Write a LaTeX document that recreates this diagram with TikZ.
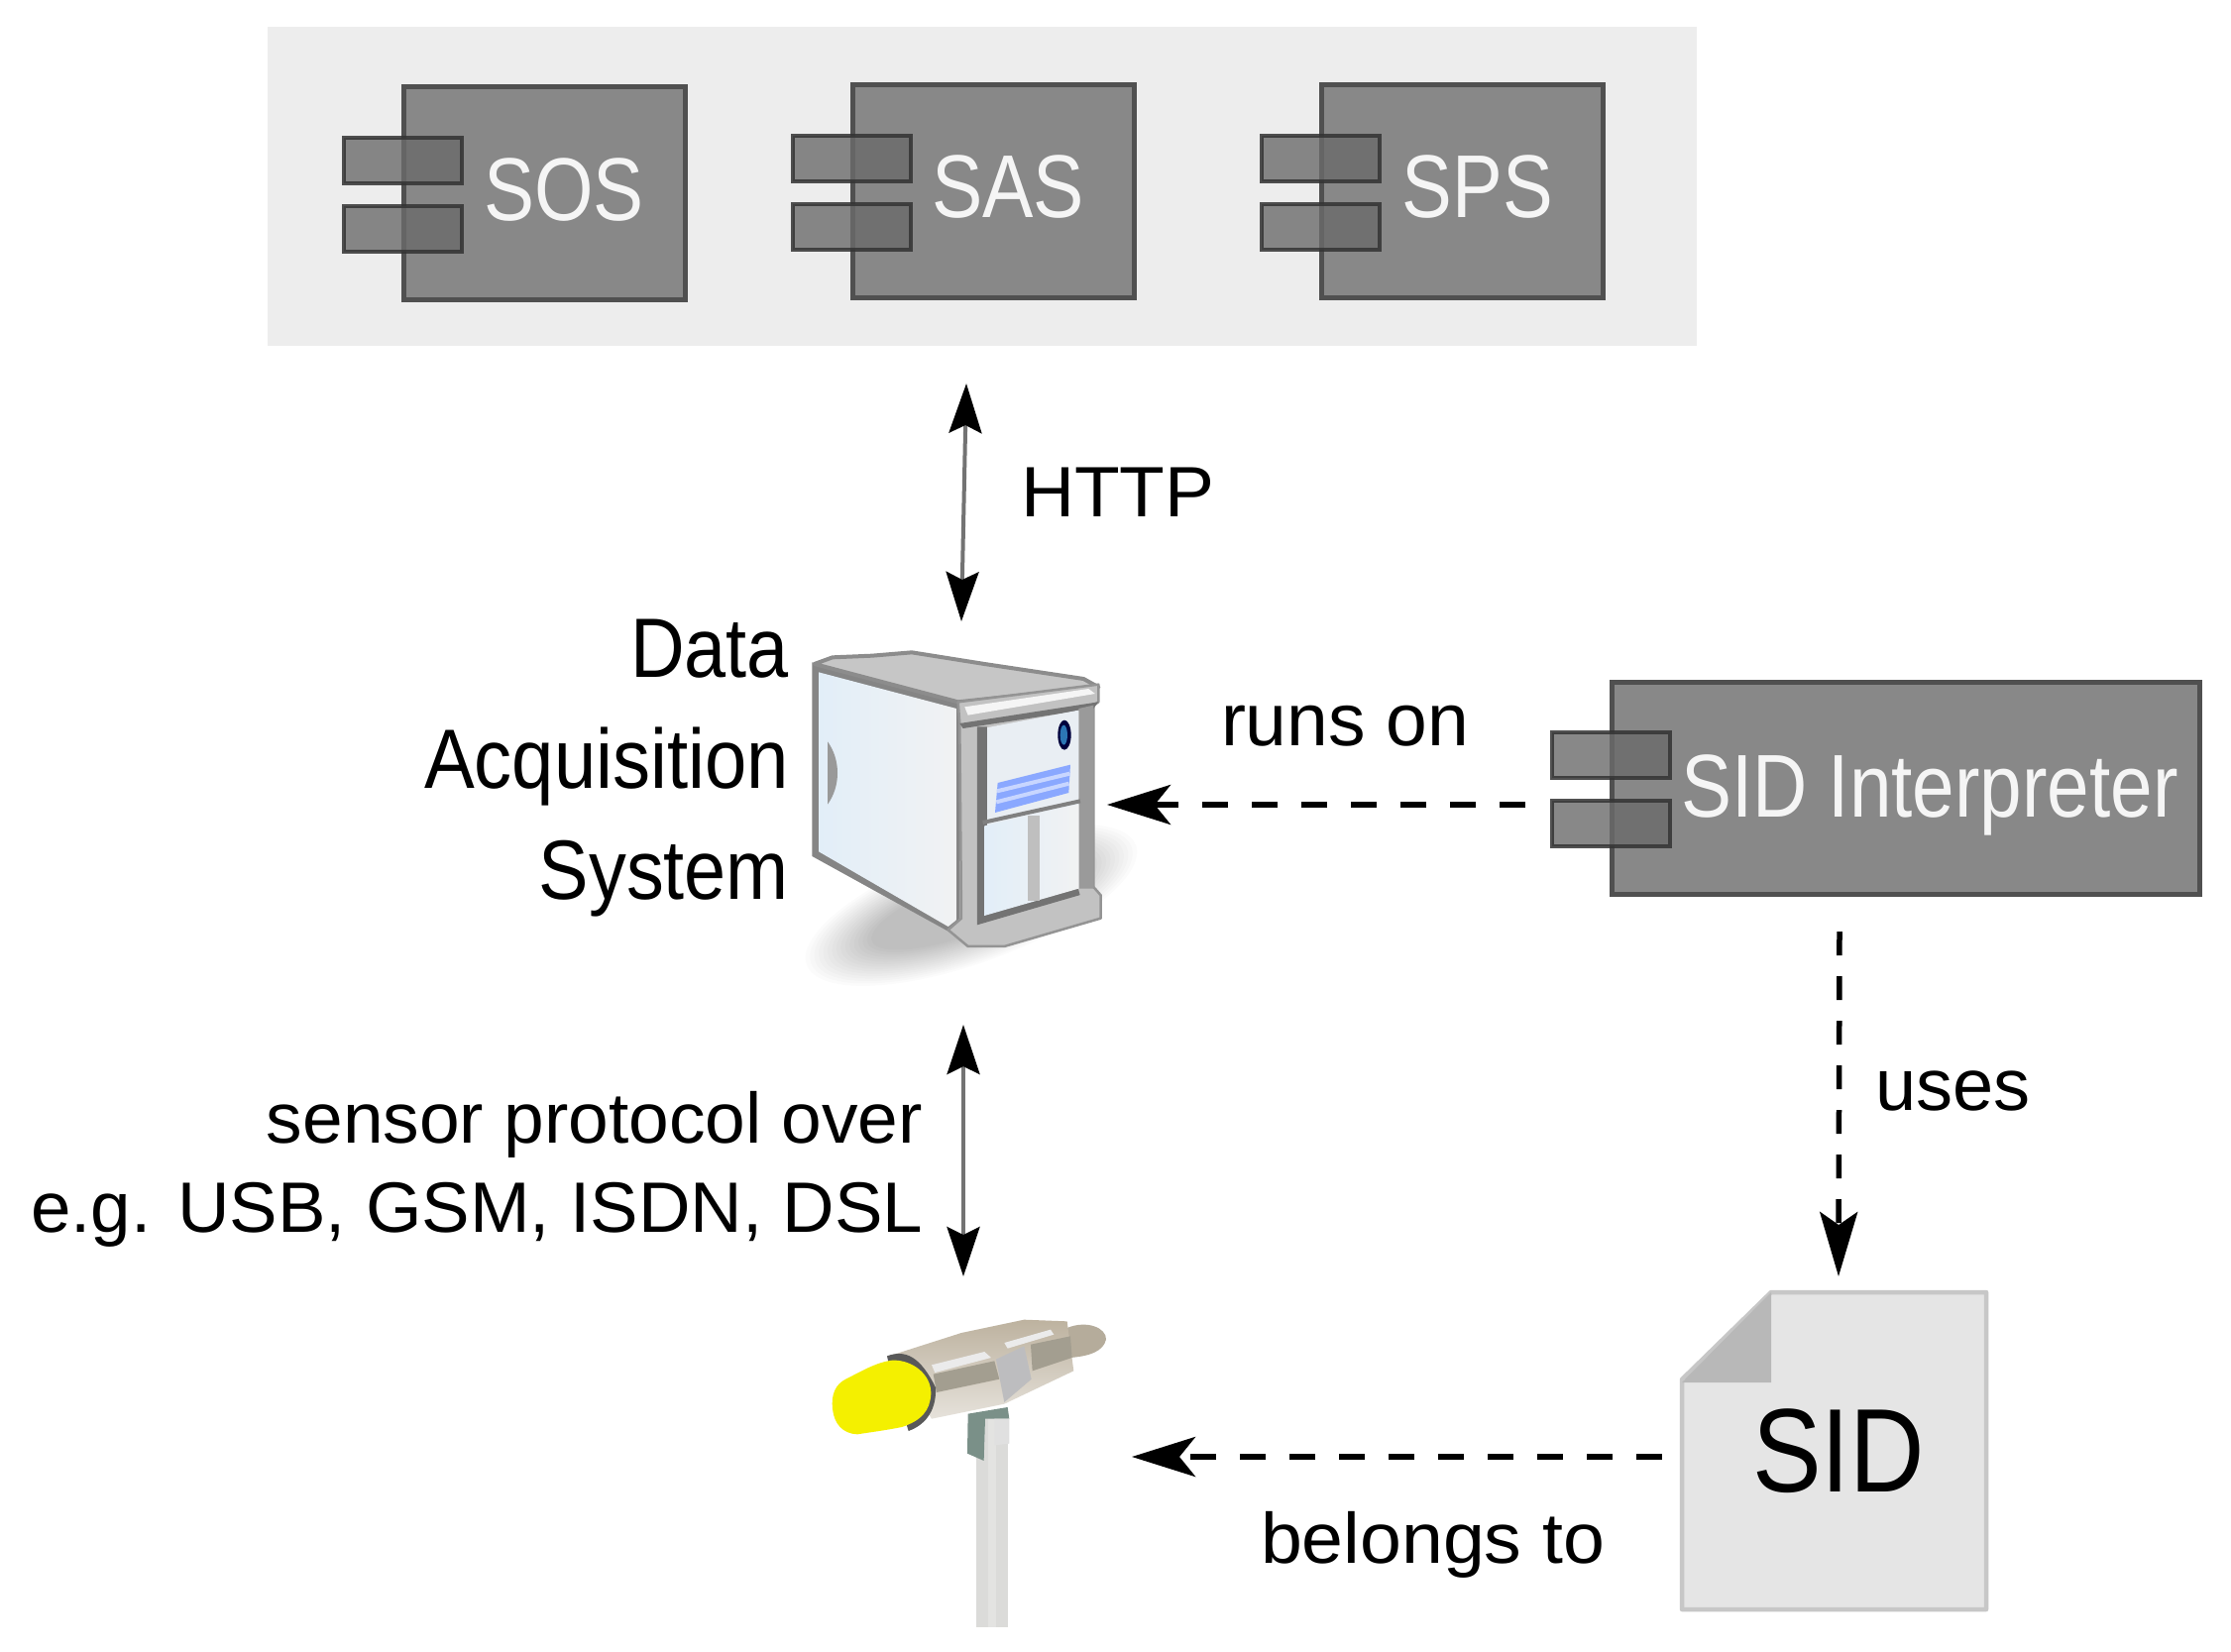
\documentclass[tikz,border=0pt]{standalone}
\usepackage{fontspec}
\setmainfont{Liberation Sans}
\usetikzlibrary{arrows.meta}
\definecolor{compfill}{HTML}{888888}
\definecolor{compline}{HTML}{505050}
\definecolor{srvA}{HTML}{E2EEF8}
\definecolor{srvB}{HTML}{F1F2F3}
\definecolor{srvP}{HTML}{E9EEF3}
\definecolor{srvF}{HTML}{C2C2C2}
\definecolor{srvD}{HTML}{9A9A9A}
\definecolor{srvT}{HTML}{C6C6C6}
\definecolor{vent}{HTML}{8AA8FF}
\definecolor{ventl}{HTML}{C8D6FF}
\definecolor{metA}{HTML}{BDB29F}
\definecolor{metB}{HTML}{E6E2DB}
\definecolor{metC}{HTML}{B5AC9B}
\definecolor{metD}{HTML}{A39E90}
\definecolor{yel}{HTML}{F4F000}
\definecolor{polec}{HTML}{DBDBD9}
\definecolor{polel}{HTML}{E3E3E1}
\definecolor{brk}{HTML}{7A9088}
\newcommand{\fsz}[1]{\fontsize{#1}{#1}\selectfont}
\tikzset{
  x=1pt,y=-1pt,
  comp/.style={draw=compline,line width=5pt,fill=compfill},
  port/.style={draw=black!80,line width=4.5pt,fill=black!58,fill opacity=.8,draw opacity=.85},
  lbl/.style={inner sep=0pt,outer sep=0pt},
  compt/.style={lbl,anchor=base,text=white!96!black},
  solidar/.style={{Stealth[length=50pt,width=33pt,inset=8pt,color=black]}-{Stealth[length=50pt,width=33pt,inset=8pt,color=black]},line width=4pt,black!55},
  dashar/.style={-{Stealth[length=64pt,width=40pt,inset=16pt,color=black]},line width=6pt,dash pattern=on 26pt off 24pt,black}
}
\begin{document}
\begin{tikzpicture}
\useasboundingbox (0,0) rectangle (2251,1667);
\fill[white] (0,0) rectangle (2251,1667);
% server group
\fill[black!7] (270,27) rectangle (1712,349);
% components
\newcommand{\compo}[4]{%
  \draw[comp] (#1,#2) rectangle (#3,#4);
  \draw[port] (#1-60,#2+51) rectangle (#1+59,#2+97);
  \draw[port] (#1-60,#2+120) rectangle (#1+59,#2+166);
}
\compo{407}{88}{691}{302}
\compo{860}{86}{1144}{300}
\compo{1333}{86}{1617}{300}
\compo{1626}{688}{2219}{902}
\node[compt] (tsos) at (569,222) {\scalebox{.85}[1]{\fsz{90}SOS}};
\node[compt] (tsas) at (1017,219) {\scalebox{.855}[1]{\fsz{90}SAS}};
\node[compt] (tsps) at (1491,219) {\scalebox{.845}[1]{\fsz{90}SPS}};
\node[compt] (tsidi) at (1947,824) {\scalebox{.85}[1]{\fsz{90}SID Interpreter}};
% server drawing
\begin{scope}[shift={(780,620)},scale=0.3333]
  \foreach \k in {0,...,15}{
    \fill[black,opacity=.016,rotate around={20:(600,880)}] (600,880) ellipse ({530-14*\k} and {175-6*\k});
  }
  % side
  \fill[black!48] (118,145) -- (565,270) -- (565,935) -- (535,962) -- (118,732) -- cycle;
  \shade[left color=srvA,right color=srvB] (138,175) -- (555,285) -- (555,925) -- (530,945) -- (138,718) -- cycle;
  \fill[black!40] (165,385) .. controls (205,440) and (205,520) .. (165,575) -- cycle;
  % top
  \fill[fill=srvT,draw=black!45,line width=4pt,line join=round] (125,150) -- (180,130) -- (300,125) -- (420,115) -- (640,150) -- (940,195) -- (985,220) -- (560,265) -- cycle;
  % front frame
  \fill[fill=srvF,draw=black!42,line width=2.5pt,line join=round] (560,265) -- (985,212) -- (985,265) -- (970,275) -- (970,825) -- (992,850) -- (992,920) -- (700,1005) -- (590,1005) -- (530,955) -- (570,920) -- (565,330) -- cycle;
  \fill[black!4] (580,280) -- (955,225) -- (975,240) -- (590,305) -- cycle;
  \fill[black!55] (565,330) -- (985,265) -- (970,285) -- (575,345) -- cycle;
  \fill[srvD] (925,285) -- (970,275) -- (970,830) -- (925,830) -- cycle;
  % panel
  \fill[srvP] (635,345) -- (925,290) -- (925,830) -- (635,915) -- cycle;
  \draw[black!55,line width=10pt] (633,340) -- (633,920) -- (925,835);
  \shade[left color=srvA,right color=srvB] (640,640) -- (925,575) -- (925,830) -- (640,912) -- cycle;
  \draw[black!50,line width=4pt] (635,630) -- (930,565);
  \draw[black!25,line width=12pt] (790,610) -- (790,868);
  \fill[vent] (680,510) -- (900,455) -- (895,540) -- (672,600) -- cycle;
  \draw[ventl,line width=4pt] (678,535) -- (898,482);
  \draw[ventl,line width=4pt] (676,568) -- (896,512);
  \fill[black!60!blue!60!black] (882,365) ellipse (20 and 45);
  \fill[cyan!60!blue!85!black] (880,365) ellipse (11 and 30);
\end{scope}
% sensor drawing
\begin{scope}[shift={(800,1290)},scale=0.3333]
  \fill[polec] (555,420) rectangle (650,1055);
  \fill[polel] (590,420) rectangle (615,1055);
  \fill[brk] (530,410) -- (650,390) -- (655,425) -- (582,425) -- (578,552) -- (528,530) -- cycle;
  \fill[black!12] (610,425) -- (655,425) -- (655,500) -- (610,505) -- cycle;
  \fill[metC] (830,150) .. controls (890,125) and (950,150) .. (948,185) .. controls (940,220) and (900,235) .. (840,240) -- cycle;
  \shade[top color=metA,middle color=metC,bottom color=metB] (300,232) -- (510,165) -- (700,125) -- (830,130) -- (850,280) -- (640,380) -- (420,425) -- cycle;
  \fill[metD] (425,290) -- (610,250) -- (625,305) -- (435,345) -- cycle;
  \fill[metD] (720,200) -- (840,175) -- (845,240) -- (725,280) -- cycle;
  \fill[white!92!black] (420,262) -- (580,222) -- (600,240) -- (430,285) -- cycle;
  \fill[white!92!black] (640,195) -- (780,155) -- (790,170) -- (650,212) -- cycle;
  \fill[blue!4!black!26] (615,245) -- (700,205) -- (722,305) -- (640,375) -- cycle;
  \fill[black!65] (285,235) .. controls (340,215) and (385,235) .. (432,330) .. controls (435,390) and (410,440) .. (350,462) -- (300,300) -- cycle;
  \fill[yel] (120,395) .. controls (115,350) and (130,320) .. (160,305) .. controls (210,280) and (250,255) .. (300,248) .. controls (360,245) and (420,290) .. (418,350) .. controls (415,400) and (390,430) .. (330,450) .. controls (280,460) and (240,465) .. (195,472) .. controls (150,470) and (125,440) .. (120,395) -- cycle;
\end{scope}
% document
\draw[draw=black!22,line width=4.5pt,fill=black!10,line join=round] (1787,1304) -- (2004,1304) -- (2004,1624) -- (1697,1624) -- (1697,1392) -- cycle;
\fill[black!28] (1787,1304) -- (1787,1395) -- (1697,1395) -- cycle;
\node[lbl,anchor=base] (tsid) at (1855,1505) {\scalebox{.87}[1]{\fsz{120}SID}};
% labels
\node[lbl,anchor=base west] (thttp) at (1030,521) {\scalebox{1.04}[1]{\fsz{72}HTTP}};
\node[lbl,anchor=base east] (tdata) at (796,683) {\scalebox{.89}[1]{\fsz{85}Data}};
\node[lbl,anchor=base east] (tacq) at (796,795) {\scalebox{.895}[1]{\fsz{85}Acquisition}};
\node[lbl,anchor=base east] (tsys) at (796,907) {\scalebox{.89}[1]{\fsz{85}System}};
\node[lbl,anchor=base west] (truns) at (1232,752) {\fsz{75}runs on};
\node[lbl,anchor=base west] (tuses) at (1892,1120) {\fsz{74}uses};
\node[lbl,anchor=base east] (tsp1) at (931,1153) {\scalebox{1.015}[1]{\fsz{72}sensor protocol over}};
\node[lbl,anchor=base east] (tsp2) at (931,1243) {\scalebox{1.01}[1]{\fsz{72}e.g. USB, GSM, ISDN, DSL}};
\node[lbl,anchor=base west] (tbel) at (1272,1577) {\scalebox{1.045}[1]{\fsz{72}belongs to}};
% connector anchors
\coordinate (grp) at (975,387);
\coordinate (srvt) at (970,627);
\coordinate (srvb) at (972,1034);
\coordinate (senst) at (972,1288);
\coordinate (srvr) at (1117,812);
\coordinate (sidl) at (1539,812);
\coordinate (sidb) at (1856,940);
\coordinate (doct) at (1855,1288);
\coordinate (docl) at (1677,1470);
\coordinate (sensr) at (1142,1470);
\draw[solidar] (grp) -- (srvt);
\draw[solidar] (srvb) -- (senst);
\draw[dashar] (sidl) -- (srvr);
\draw[-{Stealth[length=65pt,width=38pt,inset=13pt,color=black]},line width=5.5pt,dash pattern=on 24pt off 21pt,black] (sidb) -- (doct);
\draw[dashar] (docl) -- (sensr);
\end{tikzpicture}
\end{document}
